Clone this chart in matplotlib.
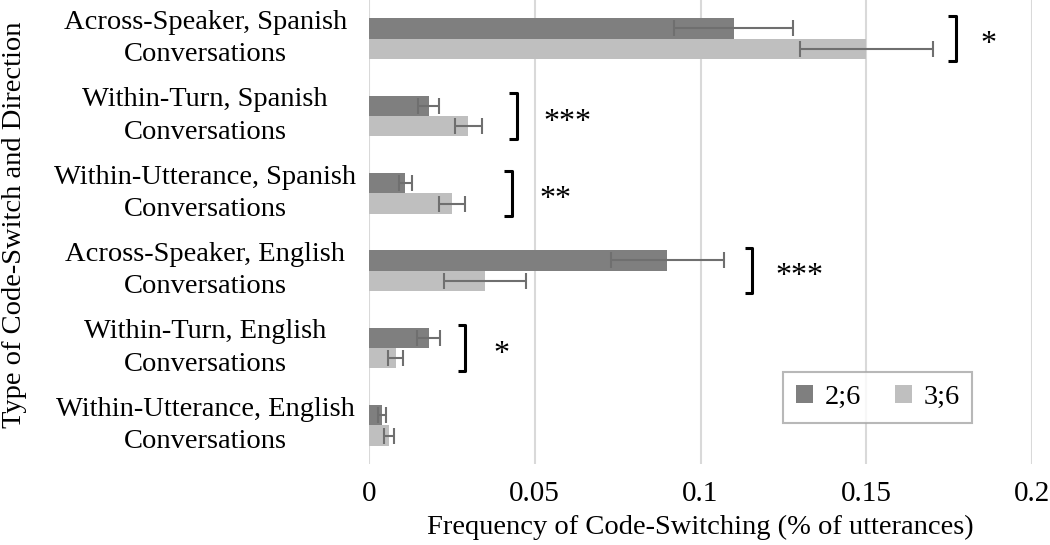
import numpy as np
import matplotlib
matplotlib.use("Agg")
import matplotlib.pyplot as plt
from matplotlib.transforms import blended_transform_factory

plt.rcParams['font.family'] = ['Liberation Serif', 'DejaVu Serif']

# data, top category first
cats = ['Across-Speaker, Spanish\nConversations',
        'Within-Turn, Spanish\nConversations',
        'Within-Utterance, Spanish\nConversations',
        'Across-Speaker, English\nConversations',
        'Within-Turn, English\nConversations',
        'Within-Utterance, English\nConversations']
age26 = [0.110, 0.018, 0.011, 0.090, 0.018, 0.004]
err26 = [0.018, 0.0032, 0.002, 0.017, 0.0035, 0.0012]
age36 = [0.150, 0.030, 0.025, 0.035, 0.008, 0.006]
err36 = [0.020, 0.004, 0.004, 0.0125, 0.0024, 0.0014]
sig = ['*', '***', '**', '***', '*', '']
brk_x = [0.177, 0.0445, 0.043, 0.1155, 0.029]
star_x = [0.1845, 0.0525, 0.0515, 0.1225, 0.0375]

dark = '#7f7f7f'
light = '#bfbfbf'
fs = 20.5

fig = plt.figure(figsize=(10.5, 5.45), dpi=100)
ax = fig.add_axes([369/1050, 1 - 464/545, 663/1050, 464/545])

n = len(cats)
y = np.arange(n)
h = 0.265
ekw = dict(ecolor='#6f6f6f', elinewidth=1.5, capsize=5.5, capthick=1.5)
ax.barh(y - h/2, age26, height=h, color=dark, xerr=err26, error_kw=ekw, label='2;6', zorder=2)
ax.barh(y + h/2, age36, height=h, color=light, xerr=err36, error_kw=ekw, label='3;6', zorder=2)

ax.set_ylim(n - 0.5, -0.5)
ax.set_xlim(0, 0.2)
ax.set_xticks([0, 0.05, 0.1, 0.15, 0.2])
ax.set_xticklabels(['0', '0.05', '0.1', '0.15', '0.2'], fontsize=21)
ax.tick_params(axis='x', length=0, pad=12)
ax.set_yticks([])
ax.grid(axis='x', color='#d9d9d9', linewidth=1.5, zorder=0)
ax.set_axisbelow(True)
for s in ax.spines.values():
    s.set_visible(False)

tr = blended_transform_factory(ax.transAxes, ax.transData)
for i, c in enumerate(cats):
    ax.text(-0.247, i, c, transform=tr, ha='center', va='center',
            fontsize=fs, linespacing=1.4)

# significance brackets
for i, s in enumerate(sig):
    if not s:
        continue
    top, bot = i - h - 0.03, i + h + 0.03
    bx = brk_x[i]
    ax.plot([bx - 0.0022, bx, bx, bx - 0.0022], [top, top, bot, bot],
            color='black', linewidth=2.2, solid_capstyle='butt', zorder=3)
    ax.text(star_x[i], i + 0.08, s, ha='left', va='center', fontsize=23)

ax.set_xlabel('Frequency of Code-Switching (% of utterances)', fontsize=fs, labelpad=6)
fig.text(15/1050, 1 - 225/545, 'Type of Code-Switch and Direction', rotation=90,
         ha='center', va='center', fontsize=fs)

leg = ax.legend(loc='lower right', bbox_to_anchor=(0.91, 0.088), ncol=2, fontsize=fs,
                frameon=True, fancybox=False, edgecolor='#a6a6a6', handlelength=0.6,
                handleheight=0.6, handletextpad=0.4, columnspacing=1.2,
                borderpad=0.45, borderaxespad=0)
leg.get_frame().set_linewidth(1.5)

fig.savefig('out.png', dpi=100)
